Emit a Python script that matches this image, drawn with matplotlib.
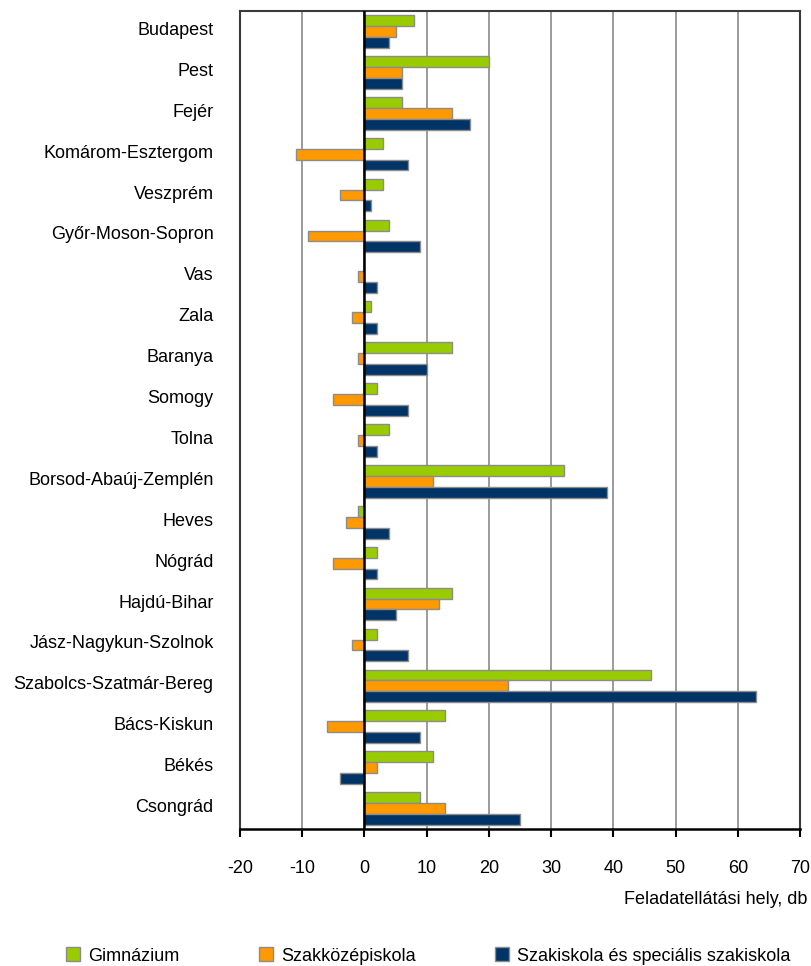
import numpy as np
import matplotlib
matplotlib.use("Agg")
from matplotlib import pyplot as plt
from matplotlib.patches import Patch
import matplotlib.transforms as mtransforms

# megyék (counties), top to bottom
megyek = ["Budapest", "Pest", "Fejér", "Komárom-Esztergom", "Veszprém",
          "Győr-Moson-Sopron", "Vas", "Zala", "Baranya", "Somogy", "Tolna",
          "Borsod-Abaúj-Zemplén", "Heves", "Nógrád", "Hajdú-Bihar",
          "Jász-Nagykun-Szolnok", "Szabolcs-Szatmár-Bereg", "Bács-Kiskun",
          "Békés", "Csongrád"]

gimnazium = [8, 20, 6, 3, 3, 4, 0, 1, 14, 2, 4, 32, -1, 2, 14, 2, 46, 13, 11, 9]
szakkozep = [5, 6, 14, -11, -4, -9, -1, -2, -1, -5, -1, 11, -3, -5, 12, -2, 23, -6, 2, 13]
szakiskola = [4, 6, 17, 7, 1, 9, 2, 2, 10, 7, 2, 39, 4, 2, 5, 7, 63, 9, -4, 25]

series_names = ["Gimnázium", "Szakközépiskola", "Szakiskola és speciális szakiskola"]
colors = ["#99CC00", "#FF9900", "#003366"]
xticks = list(range(-20, 71, 10))

plt.rcParams["font.family"] = ["Liberation Sans", "DejaVu Sans"]

fig = plt.figure(figsize=(8.11, 9.66), dpi=100)
ax = fig.add_axes([240 / 811, 1 - 829 / 966, 560 / 811, (829 - 11) / 966])

y = np.arange(len(megyek))
h = 0.265
for i, (vals, c, name) in enumerate(zip([gimnazium, szakkozep, szakiskola], colors, series_names)):
    ax.barh(y + (i - 1) * h, vals, height=h, color=c, edgecolor="#8c8c8c",
            linewidth=1.0, label=name, zorder=3)

ax.set_ylim(len(megyek) - 0.5, -0.5)
ax.set_xlim(-20, 70)
ax.set_xticks(xticks)
ax.set_xticklabels([str(t) for t in xticks], fontsize=13)
ax.set_yticks(y)
ax.set_yticklabels(megyek, fontsize=13)
ax.tick_params(axis="y", length=0, pad=19)
ax.tick_params(axis="x", direction="out", length=6, width=1.5, pad=16, color="black")

# category labels sit a little above the bar group centres
up = mtransforms.ScaledTranslation(0, 3 / 100, fig.dpi_scale_trans)
for lab in ax.get_yticklabels():
    lab.set_transform(lab.get_transform() + up)

ax.grid(axis="x", color="#808080", linewidth=1.1, zorder=1)
ax.axvline(0, color="black", linewidth=1.8, zorder=4)
for s in ["left", "right", "top"]:
    ax.spines[s].set_color("#3a3a3a")
    ax.spines[s].set_linewidth(1.5)
ax.spines["bottom"].set_color("black")
ax.spines["bottom"].set_linewidth(1.8)

fig.text(807 / 811, 1 - 900 / 966, "Feladatellátási hely, db", ha="right",
         va="center", fontsize=13)

handles = [Patch(facecolor=c, edgecolor="#8c8c8c", linewidth=1.0) for c in colors]
fig.legend(handles, series_names, loc="center left", bbox_to_anchor=(66 / 811, 1 - 956 / 966),
           ncol=3, frameon=False, fontsize=13, handlelength=0.78, handleheight=0.78,
           handletextpad=0.45, columnspacing=4.4, borderaxespad=0, borderpad=0)

fig.savefig("out.png", dpi=100)
